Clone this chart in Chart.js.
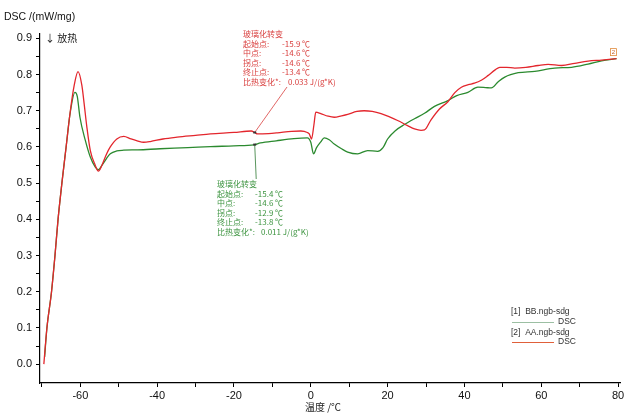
<!DOCTYPE html>
<html>
<head>
<meta charset="utf-8">
<script src="https://cdn.jsdelivr.net/npm/chart.js@4"></script>
<style>
  body { margin: 0; background: #fff; }
  #wrap { width: 628px; height: 415px; }
</style>
</head>
<body>
<div id="wrap"><canvas id="chart" width="628" height="415"></canvas></div>
<script>
// AA.ngb-sdg (red) and BB.ngb-sdg (green), DSC in mW/mg vs temperature
const aaTemp = [-69.5, -68.7, -67.5, -66.6, -65.8, -64.8, -63.7, -62.6, -61.6, -60.6,
  -59.6, -59.1, -58.3, -57.4, -56.1, -55.3, -54.4, -53.2, -52.2, -50.5,
  -48.7, -46.8, -45.2, -43.5, -41.8, -38.5, -34.8, -30, -26.1, -20,
  -15.5, -14.6, -13.9, -11, -8.7, -5, -2.6, -0.9, -0.4, 0.2,
  0.8, 1.3, 2.6, 4.5, 6.1, 8, 9.6, 12, 13.9, 16,
  18.3, 20.5, 22.6, 25.2, 27, 28.7, 29.6, 31.3, 33.5, 35.7,
  37.5, 39.2, 41, 42.6, 44.5, 46.1, 48, 49.2, 51, 53.1,
  56, 59.2, 61.8, 65.3, 68.7, 72.2, 75.7, 79.6];
const aaDsc = [0.0, 0.10, 0.20, 0.30, 0.40, 0.50, 0.60, 0.70, 0.77, 0.808,
  0.77, 0.728, 0.655, 0.59, 0.549, 0.533, 0.549, 0.58, 0.60, 0.622,
  0.629, 0.622, 0.617, 0.613, 0.615, 0.622, 0.627, 0.632, 0.636, 0.64,
  0.644, 0.640, 0.636, 0.637, 0.639, 0.643, 0.644, 0.64, 0.636, 0.622,
  0.66, 0.696, 0.692, 0.685, 0.682, 0.686, 0.69, 0.698, 0.70, 0.698,
  0.692, 0.683, 0.673, 0.659, 0.65, 0.646, 0.647, 0.675, 0.705, 0.725,
  0.75, 0.765, 0.772, 0.776, 0.785, 0.797, 0.813, 0.82, 0.82, 0.818,
  0.82, 0.825, 0.828, 0.825, 0.831, 0.837, 0.84, 0.844];

const bbTemp = [-69.3, -68.7, -67.5, -66.6, -65.8, -64.8, -63.7, -62.7, -61.4, -60.8,
  -60.1, -58.7, -57.4, -56.1, -55.3, -54.4, -53.2, -52.2, -50.5, -48.7,
  -45, -39.2, -32, -26.1, -20, -14.8, -13.1, -9, -4.4, -0.9,
  0, 0.7, 1.5, 2.6, 3.5, 4.8, 6.1, 8, 9.6, 12.2,
  14.8, 17.4, 18.8, 20, 22, 24.4, 27, 29.6, 32.2, 35.7,
  38, 40.9, 43.5, 45.5, 47, 48.8, 50.5, 54, 58.3, 63.5,
  67.9, 72.2, 75.7, 79.6];
const bbDsc = [0.02, 0.10, 0.20, 0.30, 0.40, 0.50, 0.60, 0.69, 0.751, 0.74,
  0.682, 0.618, 0.572, 0.544, 0.537, 0.549, 0.568, 0.581, 0.589, 0.591,
  0.592, 0.595, 0.598, 0.601, 0.603, 0.606, 0.611, 0.617, 0.623, 0.625,
  0.613, 0.581, 0.598, 0.614, 0.625, 0.62, 0.608, 0.595, 0.586, 0.581,
  0.59, 0.588, 0.598, 0.622, 0.645, 0.662, 0.678, 0.693, 0.712, 0.728,
  0.742, 0.751, 0.765, 0.764, 0.763, 0.78, 0.793, 0.805, 0.809, 0.818,
  0.82, 0.829, 0.838, 0.844];

const xTicks = [-70, -60, -50, -40, -30, -20, -10, 0, 10, 20, 30, 40, 50, 60, 70, 80];
const yTicks = [0, 0.05, 0.1, 0.15, 0.2, 0.25, 0.3, 0.35, 0.4, 0.45, 0.5, 0.55, 0.6, 0.65, 0.7, 0.75, 0.8, 0.85, 0.9];

const aaGlass = ["玻璃化转变", ["起始点:", "-15.9 ℃"], ["中点:", "-14.6 ℃"], ["拐点:", "-14.6 ℃"], ["终止点:", "-13.4 ℃"], ["比热变化*:", "0.033 J/(g*K)"]];
const bbGlass = ["玻璃化转变", ["起始点:", "-15.4 ℃"], ["中点:", "-14.6 ℃"], ["拐点:", "-12.9 ℃"], ["终止点:", "-13.8 ℃"], ["比热变化*:", "0.011 J/(g*K)"]];
const glassMid = -14.6;

const RED = "#e3262d";
const GREEN = "#2b8a2f";

function toPoints(xs, ys) {
  return xs.map((x, i) => ({ x: x, y: ys[i] }));
}

function valueAt(xs, ys, t) {
  for (let i = 1; i < xs.length; i++) {
    if (xs[i] >= t) {
      const f = (t - xs[i - 1]) / (xs[i] - xs[i - 1]);
      return ys[i - 1] + f * (ys[i] - ys[i - 1]);
    }
  }
  return ys[ys.length - 1];
}

const extras = {
  id: "extras",
  afterDraw(chart) {
    const ctx = chart.ctx;
    const xs = chart.scales.x;
    const ys = chart.scales.y;
    ctx.save();

    // axis titles
    ctx.fillStyle = "#111";
    ctx.font = "10.5px 'Liberation Sans', Arial, sans-serif";
    ctx.textBaseline = "middle";
    ctx.textAlign = "left";
    ctx.fillText("DSC /(mW/mg)", 4, 17);
    ctx.fillStyle = "#222";
    ctx.font = "10px 'Noto Sans CJK SC', sans-serif";
    ctx.fillText("↓ 放热", 45, 38);
    ctx.textAlign = "center";
    ctx.fillText("温度 /℃", 323, 407);

    // glass transition annotations
    function block(lines, x, y, valX, color) {
      ctx.fillStyle = color;
      ctx.font = "8px 'Noto Sans CJK SC', sans-serif";
      ctx.textAlign = "left";
      ctx.fillText(lines[0], x, y);
      for (let i = 1; i < lines.length; i++) {
        const yy = y + i * 9.6;
        ctx.fillText(lines[i][0], x, yy);
        ctx.fillText(lines[i][1], valX + (i === lines.length - 1 ? 6 : 0), yy);
      }
    }
    block(aaGlass, 243, 34, 282, "#d9403f");
    block(bbGlass, 217, 184, 255, "#3d9440");

    const gx = xs.getPixelForValue(glassMid);
    const ra = ys.getPixelForValue(valueAt(aaTemp, aaDsc, glassMid));
    const gb = ys.getPixelForValue(valueAt(bbTemp, bbDsc, glassMid));
    ctx.lineWidth = 0.8;
    ctx.strokeStyle = "#d9403f";
    ctx.beginPath();
    ctx.moveTo(287, 87);
    ctx.lineTo(gx, ra);
    ctx.stroke();
    ctx.strokeStyle = "#2f7a33";
    ctx.beginPath();
    ctx.moveTo(gx, gb);
    ctx.lineTo(gx + 1.5, 179);
    ctx.stroke();
    ctx.fillStyle = "#333";
    ctx.fillRect(gx - 1.5, ra - 1, 3, 2);
    ctx.fillRect(gx - 1.5, gb - 1, 3, 2);

    // end marker [2]
    const ex = xs.getPixelForValue(aaTemp[aaTemp.length - 1]);
    const ey = ys.getPixelForValue(aaDsc[aaDsc.length - 1]);
    ctx.strokeStyle = "#e08a3a";
    ctx.lineWidth = 0.8;
    ctx.strokeRect(ex - 6, ey - 10, 6, 7);
    ctx.fillStyle = "#c0602a";
    ctx.font = "6px 'Liberation Sans', Arial, sans-serif";
    ctx.textAlign = "center";
    ctx.fillText("2", ex - 3, ey - 6.5);

    // legend
    ctx.font = "8.5px 'Liberation Sans', Arial, sans-serif";
    ctx.textAlign = "left";
    ctx.fillStyle = "#333";
    ctx.fillText("[1]  BB.ngb-sdg", 511, 312);
    ctx.fillText("DSC", 558, 322);
    ctx.fillText("[2]  AA.ngb-sdg", 511, 333);
    ctx.fillText("DSC", 558, 342);
    ctx.lineWidth = 1;
    ctx.strokeStyle = "#9cbfa3";
    ctx.beginPath();
    ctx.moveTo(512, 322.5);
    ctx.lineTo(554, 322.5);
    ctx.stroke();
    ctx.strokeStyle = "#e0603a";
    ctx.beginPath();
    ctx.moveTo(512, 342.5);
    ctx.lineTo(554, 342.5);
    ctx.stroke();

    ctx.restore();
  },
};

const ctx = document.getElementById("chart").getContext("2d");
const myChart = new Chart(ctx, {
  type: "line",
  data: {
    datasets: [
      {
        label: "AA.ngb-sdg",
        data: toPoints(aaTemp, aaDsc),
        borderColor: RED,
        borderWidth: 1.3,
        pointRadius: 0,
        cubicInterpolationMode: "monotone",
      },
      {
        label: "BB.ngb-sdg",
        data: toPoints(bbTemp, bbDsc),
        borderColor: GREEN,
        borderWidth: 1.3,
        pointRadius: 0,
        cubicInterpolationMode: "monotone",
      },
    ],
  },
  options: {
    responsive: false,
    animation: false,
    layout: { padding: { top: 34, right: 8, left: 0, bottom: 0 } },
    plugins: { legend: { display: false }, tooltip: { enabled: false } },
    scales: {
      x: {
        type: "linear",
        min: -70.5,
        max: 80.5,
        afterFit: (s) => { s.height = 32; },
        afterBuildTicks: (s) => { s.ticks = xTicks.map((v) => ({ value: v })); },
        border: { display: true, color: "#000", width: 1.2 },
        grid: { drawOnChartArea: false, drawTicks: true, tickLength: 4, color: "#000" },
        ticks: {
          padding: 2,
          color: "#111",
          font: { family: "'Liberation Sans', Arial, sans-serif", size: 11 },
          maxRotation: 0,
          autoSkip: false,
          callback: (v) => (v % 20 === 0 ? String(v) : ""),
        },
      },
      y: {
        min: -0.052,
        max: 0.912,
        afterFit: (s) => { s.width = 40; },
        afterBuildTicks: (s) => { s.ticks = yTicks.map((v) => ({ value: v })); },
        border: { display: true, color: "#000", width: 1.2 },
        grid: { drawOnChartArea: false, drawTicks: true, tickLength: 4, color: "#000" },
        ticks: {
          padding: 4,
          color: "#111",
          font: { family: "'Liberation Sans', Arial, sans-serif", size: 11 },
          autoSkip: false,
          callback: (v) => (Math.abs(v * 10 - Math.round(v * 10)) < 1e-6 ? v.toFixed(1) : ""),
        },
      },
    },
  },
  plugins: [extras],
});
</script>
</body>
</html>
